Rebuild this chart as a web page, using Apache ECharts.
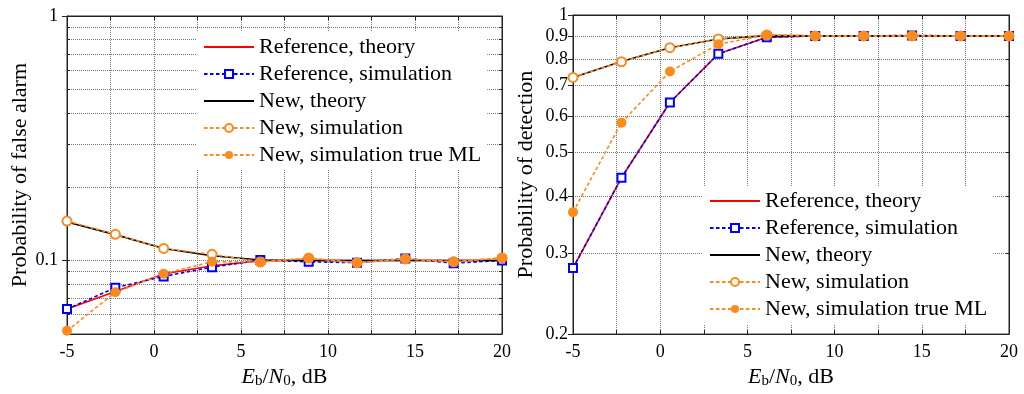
<!DOCTYPE html>
<html>
<head>
<meta charset="utf-8">
<script src="https://cdn.jsdelivr.net/npm/echarts@6/dist/echarts.min.js"></script>
<style>html,body{margin:0;padding:0;background:#fff}#c{width:1024px;height:394px}</style>
</head>
<body>
<div id="c"></div>
<script>
// ---- data ----
const xs = [-5, -2.222, 0.556, 3.333, 6.111, 8.889, 11.667, 14.444, 17.222, 20];
const seriesNames = ['Reference, theory', 'Reference, simulation', 'New, theory', 'New, simulation', 'New, simulation true ML'];

// Left panel: probability of false alarm
const pfaRefTheory = [0.0634, 0.0746, 0.088, 0.0951, 0.0997, 0.1, 0.1, 0.1, 0.1, 0.1];
const pfaRefSim    = [0.0633, 0.0774, 0.0861, 0.0939, 0.1005, 0.0988, 0.098, 0.1019, 0.0975, 0.1];
const pfaNewTheory = [0.1436, 0.1276, 0.112, 0.1045, 0.1005, 0.1, 0.1, 0.1, 0.1, 0.1];
const pfaNewSim    = [0.145, 0.128, 0.112, 0.106, 0.0986, 0.1023, 0.0979, 0.1015, 0.0988, 0.1025];
const pfaNewSimML  = [0.0516, 0.0741, 0.0883, 0.0988, 0.0986, 0.1023, 0.0979, 0.1015, 0.0988, 0.1025];

// Right panel: probability of detection
const pdRefTheory = [0.279, 0.44, 0.643, 0.822, 0.894, 0.9, 0.9, 0.9, 0.9, 0.9];
const pdRefSim    = [0.279, 0.44, 0.643, 0.822, 0.894, 0.9, 0.9, 0.902, 0.9, 0.9];
const pdNewTheory = [0.73, 0.791, 0.848, 0.886, 0.901, 0.9, 0.9, 0.9, 0.9, 0.9];
const pdNewSim    = [0.73, 0.79, 0.848, 0.886, 0.904, 0.9, 0.9, 0.9, 0.9, 0.9];
const pdNewSimML  = [0.37, 0.581, 0.752, 0.863, 0.904, 0.9, 0.9, 0.9, 0.9, 0.9];

const xTicks = [-5, 0, 5, 10, 15, 20];
const pfaGridValues = [0.05, 0.06, 0.07, 0.08, 0.09, 0.1, 0.2, 0.3, 0.4, 0.5, 0.6, 0.7, 0.8, 0.9, 1];
const pfaLabelValues = [0.1, 1];
const pdTickValues = [0.2, 0.3, 0.4, 0.5, 0.6, 0.7, 0.8, 0.9, 1];

// ---- styling ----
const FONT = 'Liberation Serif';
const ORANGE = '#fd8a1c';
const GRIDLINE = { show: true, lineStyle: { color: '#777', type: [1, 1], width: 1 } };
const DASH = [3.5, 2.5];

function pair(vals) { return xs.map((x, i) => [x, vals[i]]); }

function xAxisFor(gi) {
  return [{
    type: 'value', gridIndex: gi, min: -5, max: 20, interval: 2.5,
    axisLine: { show: true, onZero: false, lineStyle: { color: '#222', width: 1 } },
    axisTick: { show: true, inside: true, length: 4, lineStyle: { color: '#222' } },
    axisLabel: {
      color: '#000', fontFamily: FONT, fontSize: 18, margin: 9,
      formatter: v => (xTicks.indexOf(v) >= 0 ? String(v) : '')
    },
    splitLine: GRIDLINE,
    name: '{i|E}{s|b}{n|/}{i|N}{s|0}{n|, dB}',
    nameLocation: 'middle', nameGap: 30,
    nameTextStyle: {
      color: '#000', fontFamily: FONT, fontSize: 22,
      rich: {
        i: { fontFamily: FONT, fontSize: 22, fontStyle: 'italic', color: '#000' },
        n: { fontFamily: FONT, fontSize: 22, color: '#000' },
        s: { fontFamily: FONT, fontSize: 15, color: '#000', padding: [9, 0, 0, 0] }
      }
    }
  }, {
    type: 'value', gridIndex: gi, min: -5, max: 20, interval: 2.5, position: 'top',
    axisLine: { show: true, onZero: false, lineStyle: { color: '#222', width: 1 } },
    axisTick: { show: true, inside: true, length: 4, lineStyle: { color: '#222' } },
    axisLabel: { show: false }, splitLine: { show: false }
  }];
}

function seriesFor(gi, vals) {
  const base = { type: 'line', xAxisIndex: gi * 2, yAxisIndex: gi * 2, animation: false };
  return [
    Object.assign({}, base, { name: seriesNames[0], data: pair(vals[0]), symbol: 'none',
      lineStyle: { color: '#ff0000', width: 1.6 }, itemStyle: { color: '#ff0000' } }),
    Object.assign({}, base, { name: seriesNames[1], data: pair(vals[1]), symbol: 'emptyRect', symbolSize: 8,
      lineStyle: { color: '#0000ff', width: 1.6, type: DASH }, itemStyle: { color: '#0000ff', borderWidth: 1.3 } }),
    Object.assign({}, base, { name: seriesNames[2], data: pair(vals[2]), symbol: 'none',
      lineStyle: { color: '#000', width: 1.6 }, itemStyle: { color: '#000' } }),
    Object.assign({}, base, { name: seriesNames[3], data: pair(vals[3]), symbol: 'emptyCircle', symbolSize: 9,
      lineStyle: { color: ORANGE, width: 1.6, type: DASH }, itemStyle: { color: ORANGE, borderWidth: 1.3 } }),
    Object.assign({}, base, { name: seriesNames[4], data: pair(vals[4]), symbol: 'circle', symbolSize: 10,
      lineStyle: { color: ORANGE, width: 1.6, type: DASH }, itemStyle: { color: ORANGE } })
  ];
}

function legendAt(left, top) {
  return {
    data: [
      { name: seriesNames[0], itemStyle: { opacity: 0 } },
      { name: seriesNames[1] },
      { name: seriesNames[2], itemStyle: { opacity: 0 } },
      { name: seriesNames[3] },
      { name: seriesNames[4] }
    ],
    orient: 'vertical', left: left, top: top,
    itemWidth: 50, itemHeight: 10, itemGap: 5,
    backgroundColor: '#fff', padding: [4, 6, 4, 6],
    selectedMode: false,
    textStyle: { color: '#000', fontFamily: FONT, fontSize: 22 }
  };
}

const chart = echarts.init(document.getElementById('c'), null, { renderer: 'canvas' });
chart.setOption({
  animation: false,
  backgroundColor: '#fff',
  grid: [
    { left: 67, top: 16, width: 435, height: 319, show: true, borderColor: '#222', borderWidth: 1, backgroundColor: 'transparent' },
    { left: 573, top: 15, width: 436, height: 320, show: true, borderColor: '#222', borderWidth: 1, backgroundColor: 'transparent' }
  ],
  xAxis: xAxisFor(0).concat(xAxisFor(1)),
  yAxis: [
    {
      type: 'log', logBase: 10, gridIndex: 0, min: 0.05, max: 1,
      axisLine: { show: true, onZero: false, lineStyle: { color: '#222', width: 1 } },
      axisTick: { show: true, inside: true, length: 3, customValues: pfaGridValues, lineStyle: { color: '#222' } },
      axisLabel: { color: '#000', fontFamily: FONT, fontSize: 18, margin: 9, customValues: pfaLabelValues,
        formatter: v => String(+(+v).toFixed(2)) },
      splitLine: GRIDLINE,
      name: 'Probability of false alarm', nameLocation: 'middle', nameGap: 32,
      nameTextStyle: { color: '#000', fontFamily: FONT, fontSize: 22 }
    },
    {
      type: 'log', logBase: 10, gridIndex: 0, min: 0.05, max: 1, position: 'right',
      axisLine: { show: true, onZero: false, lineStyle: { color: '#222', width: 1 } },
      axisTick: { show: true, inside: true, length: 3, customValues: pfaGridValues, lineStyle: { color: '#222' } },
      axisLabel: { show: false }, splitLine: { show: false }
    },
    {
      type: 'log', logBase: 10, gridIndex: 1, min: 0.2, max: 1,
      axisLine: { show: true, onZero: false, lineStyle: { color: '#222', width: 1 } },
      axisTick: { show: true, inside: false, length: 5, customValues: pdTickValues, lineStyle: { color: '#222' } },
      axisLabel: { color: '#000', fontFamily: FONT, fontSize: 18, margin: 5, customValues: pdTickValues,
        formatter: v => String(+(+v).toFixed(2)) },
      splitLine: GRIDLINE,
      name: 'Probability of detection', nameLocation: 'middle', nameGap: 36,
      nameTextStyle: { color: '#000', fontFamily: FONT, fontSize: 22 }
    },
    {
      type: 'log', logBase: 10, gridIndex: 1, min: 0.2, max: 1, position: 'right',
      axisLine: { show: true, onZero: false, lineStyle: { color: '#222', width: 1 } },
      axisTick: { show: true, inside: true, length: 3, customValues: pdTickValues, lineStyle: { color: '#222' } },
      axisLabel: { show: false }, splitLine: { show: false }
    },
    {
      type: 'log', logBase: 10, gridIndex: 0, min: 0.05, max: 1, position: 'left',
      axisLine: { show: false, onZero: false },
      axisTick: { show: true, inside: false, length: 5, customValues: pfaLabelValues, lineStyle: { color: '#222' } },
      axisLabel: { show: false }, splitLine: { show: false }
    }
  ],
  legend: [legendAt(197, 32), legendAt(703, 186)],
  series: seriesFor(0, [pfaRefTheory, pfaRefSim, pfaNewTheory, pfaNewSim, pfaNewSimML])
    .concat(seriesFor(1, [pdRefTheory, pdRefSim, pdNewTheory, pdNewSim, pdNewSimML]))
});
</script>
</body>
</html>
